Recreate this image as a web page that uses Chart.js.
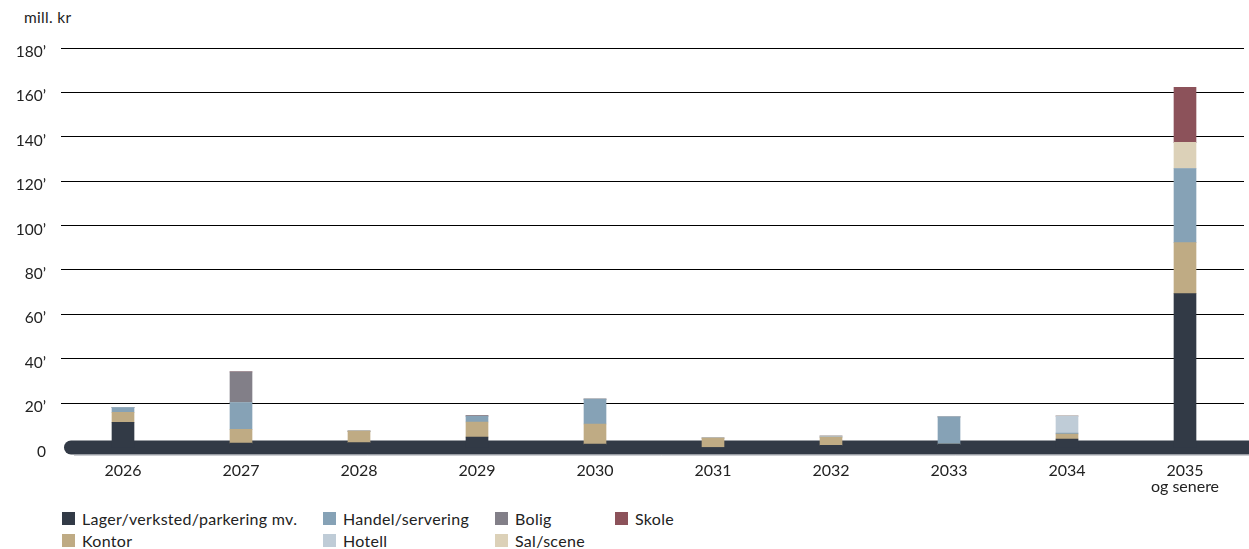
<!DOCTYPE html>
<html>
<head>
<meta charset="utf-8">
<script src="https://cdn.jsdelivr.net/npm/chart.js@4.4.1/dist/chart.umd.min.js"></script>
<style>
  html, body { margin: 0; padding: 0; background: #fff; }
  body { width: 1249px; height: 549px; position: relative; overflow: hidden; font-family: Lato, "Open Sans", sans-serif; color: #222; }
  #unit { position: absolute; left: 24px; top: 8px; font-size: 15.5px; letter-spacing: 0.3px; }
  #wrap { position: absolute; left: 0; top: 0; width: 1249px; height: 500px; }
  #legend { position: absolute; left: 0; top: 509px; width: 1249px; height: 40px; font-size: 16px; letter-spacing: 0.3px; }
  #legend .item { position: absolute; display: flex; align-items: center; white-space: nowrap; }
  #legend .box { width: 13px; height: 13px; margin-right: 7px; }
</style>
</head>
<body>
<div id="unit">mill. kr</div>
<div id="wrap"><canvas id="chart" width="1249" height="500"></canvas></div>
<div id="legend"></div>
<script>
const years = ["2026", "2027", "2028", "2029", "2030", "2031", "2032", "2033", "2034", ["2035", "og senere"]];

// values in mill. kr
const lager   = [11.3, 2,   2.2, 4.7, 1.5, 0,   1,   1.5,  3.8, 69.3];
const kontor  = [4.5,  6.2, 5.2, 6.8, 9.1, 4.3, 3.7, 0,    2.3, 23];
const handel  = [2.2,  12,  0,   2.6, 11.2, 0,  0,   12.3, 0.4, 33.4];
const hotell  = [0,    0,   0,   0,   0,   0,   0.5, 0,    7.7, 0];
const sal     = [0,    0,   0,   0,   0,   0,   0,   0,    0,   11.8];
const bolig   = [0,    13.9, 0,  0.3, 0,   0,   0,   0,    0,   0];
const skole   = [0,    0,   0,   0,   0,   0,   0,   0,    0,   24.8];

const yTicks = [0, 20, 40, 60, 80, 100, 120, 140, 160, 180];

const series = [
  { label: "Lager/verksted/parkering mv.", data: lager,  color: "#323a46" },
  { label: "Kontor",           data: kontor, color: "#bfab84" },
  { label: "Handel/servering", data: handel, color: "#86a2b6" },
  { label: "Hotell",           data: hotell, color: "#bfccd7" },
  { label: "Sal/scene",        data: sal,    color: "#dcd1b8" },
  { label: "Bolig",            data: bolig,  color: "#827f88" },
  { label: "Skole",            data: skole,  color: "#8c525a" }
];

// legend slots: [series label, left px, top px]
const legendSlots = [
  ["Lager/verksted/parkering mv.", 62, 0],
  ["Handel/servering", 323, 0],
  ["Bolig", 495, 0],
  ["Skole", 615, 0],
  ["Kontor", 62, 22],
  ["Hotell", 323, 22],
  ["Sal/scene", 495, 22]
];

const FONT = "Lato, 'Open Sans', sans-serif";

// thick rounded base line under the bars
const baseLine = {
  id: "baseLine",
  beforeDatasetsDraw(chart) {
    const ctx = chart.ctx;
    const y = chart.scales.y.getPixelForValue(0);
    ctx.save();
    ctx.strokeStyle = "#323a46";
    ctx.lineWidth = 14;
    ctx.lineCap = "round";
    ctx.beginPath();
    ctx.moveTo(chart.chartArea.left + 7, y);
    ctx.lineTo(chart.width + 20, y);
    ctx.stroke();
    // faint grey edge under the base
    ctx.strokeStyle = "#9a9ea6";
    ctx.lineWidth = 1;
    ctx.lineCap = "butt";
    ctx.beginPath();
    ctx.moveTo(chart.chartArea.left + 10, y + 7.5);
    ctx.lineTo(chart.width, y + 7.5);
    ctx.stroke();
    ctx.restore();
  }
};

const ctx = document.getElementById("chart").getContext("2d");
ctx.letterSpacing = "0.4px";
new Chart(ctx, {
  type: "bar",
  data: {
    labels: years,
    datasets: series.map(s => ({
      label: s.label,
      data: s.data,
      backgroundColor: s.color,
      borderWidth: 0,
      barThickness: 22
    }))
  },
  options: {
    responsive: false,
    animation: false,
    layout: { padding: { top: 48, right: 5, left: 0, bottom: 0 } },
    plugins: {
      legend: { display: false },
      tooltip: { enabled: false }
    },
    scales: {
      x: {
        stacked: true,
        grid: { display: false },
        border: { display: false },
        ticks: {
          color: "#222",
          font: { family: FONT, size: 16, lineHeight: 1.0 },
          padding: 7,
          maxRotation: 0
        },
        afterFit(scale) { scale.height = 52.5; }
      },
      y: {
        stacked: true,
        min: 0,
        max: 180,
        afterBuildTicks(scale) { scale.ticks = yTicks.map(v => ({ value: v })); },
        grid: {
          color: ctx => ctx.tick && ctx.tick.value === 0 ? "rgba(0,0,0,0)" : "#000",
          lineWidth: 1,
          drawTicks: true,
          tickLength: 3
        },
        border: { display: false },
        ticks: {
          color: "#222",
          font: { family: FONT, size: 15.5 },
          padding: 15,
          labelOffset: 4,
          callback: v => v === 0 ? "0" : v + "\u2019"
        },
        afterFit(scale) { scale.width = 64; }
      }
    }
  },
  plugins: [baseLine]
});

// legend
const legend = document.getElementById("legend");
legendSlots.forEach(([name, left, top]) => {
  const s = series.find(d => d.label === name);
  const item = document.createElement("div");
  item.className = "item";
  item.style.left = left + "px";
  item.style.top = top + "px";
  const box = document.createElement("span");
  box.className = "box";
  box.style.background = s.color;
  const text = document.createElement("span");
  text.textContent = s.label;
  item.appendChild(box);
  item.appendChild(text);
  legend.appendChild(item);
});
</script>
</body>
</html>
